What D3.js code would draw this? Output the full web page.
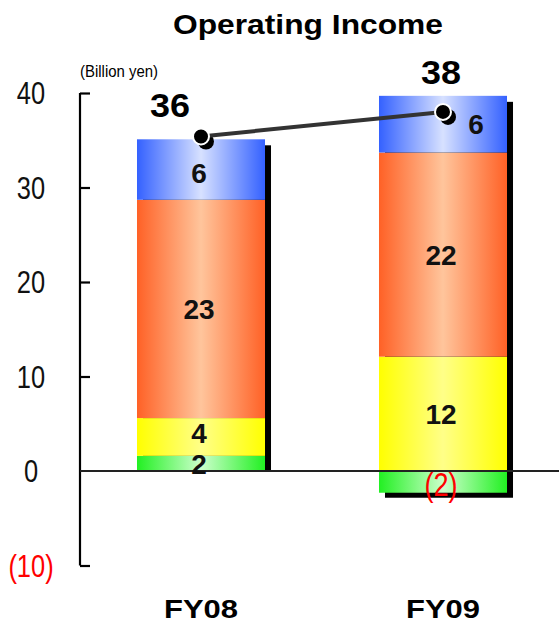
<!DOCTYPE html>
<html>
<head>
<meta charset="utf-8">
<script src="https://cdn.jsdelivr.net/npm/d3@7"></script>
<style>
  html, body { margin: 0; padding: 0; background: #fff; }
  svg { display: block; }
</style>
</head>
<body>
<svg id="chart" width="559" height="625"></svg>
<script>
// ---- data ----
const categories = ["FY08", "FY09"];
const seriesNames = ["green", "yellow", "orange", "blue"];
const greenValues  = [1.6, -2.3];
const yellowValues = [4.0, 12.1];
const orangeValues = [23.1, 21.6];
const blueValues   = [6.4, 6.0];
const greenLabels  = ["2", "(2)"];
const yellowLabels = ["4", "12"];
const orangeLabels = ["23", "22"];
const blueLabels   = ["6", "6"];
const totalValues  = [35.4, 38.0];
const totalLabels  = ["36", "38"];
const yTickValues  = [-10, 0, 10, 20, 30, 40];
const yTickLabels  = ["(10)", "0", "10", "20", "30", "40"];

const seriesValues = { green: greenValues, yellow: yellowValues, orange: orangeValues, blue: blueValues };
const seriesLabels = { green: greenLabels, yellow: yellowLabels, orange: orangeLabels, blue: blueLabels };
const gradStops = {
  green:  ["#22f022", "#ccffcc"],
  yellow: ["#ffff00", "#ffff88"],
  orange: ["#ff6126", "#ffc59c"],
  blue:   ["#3461ff", "#d7e1ff"]
};

const FONT = "'Liberation Sans', Arial, Helvetica, sans-serif";
const svg = d3.select("#chart");
const W = 559, H = 625;

const y = d3.scaleLinear().domain([-10, 40]).range([565.5, 93]);
const x = d3.scaleBand().domain(categories).range([80, 564]).paddingInner(0.471).paddingOuter(0.2355);

// narrow text: Liberation Sans compressed horizontally to mimic Arial Narrow
function narrow(sel) {
  sel.each(function () {
    const w = this.getComputedTextLength();
    if (w > 0) d3.select(this).attr("textLength", w * 0.82).attr("lengthAdjust", "spacingAndGlyphs");
  });
}

// gradients
const defs = svg.append("defs");
seriesNames.forEach(s => {
  const g = defs.append("linearGradient").attr("id", "g-" + s)
    .attr("x1", "0%").attr("x2", "100%").attr("y1", "0%").attr("y2", "0%");
  g.append("stop").attr("offset", "0%").attr("stop-color", gradStops[s][0]);
  g.append("stop").attr("offset", "50%").attr("stop-color", gradStops[s][1]);
  g.append("stop").attr("offset", "100%").attr("stop-color", gradStops[s][0]);
});

// stack
const table = categories.map((c, i) => {
  const o = { cat: c };
  seriesNames.forEach(s => o[s] = seriesValues[s][i]);
  return o;
});
const stacked = d3.stack().keys(seriesNames).offset(d3.stackOffsetDiverging)(table);

// title
svg.append("text").attr("font-family", FONT).attr("font-weight", "bold")
  .attr("x", 308).attr("y", 34).attr("text-anchor", "middle")
  .attr("font-size", 28).attr("textLength", 270).attr("lengthAdjust", "spacingAndGlyphs")
  .text("Operating Income");

// unit label
svg.append("text").attr("font-family", FONT)
  .attr("x", 80).attr("y", 77).attr("font-size", 16)
  .attr("textLength", 78).attr("lengthAdjust", "spacingAndGlyphs")
  .text("(Billion yen)");

// y axis
const yAxis = d3.axisRight(y).tickValues(yTickValues).tickSize(10).tickFormat("");
const ag = svg.append("g").attr("transform", "translate(80,0)").call(yAxis);
ag.select(".domain").attr("stroke", "#000").attr("stroke-width", 2.2)
  .attr("d", `M0,${y(40)}V${y(-10)}`);
ag.selectAll(".tick line").attr("stroke", "#000").attr("stroke-width", 2.2);
ag.selectAll(".tick").filter(d => d === 0).remove();

svg.selectAll(".ytl").data(yTickValues).enter().append("text")
  .attr("class", "ytl").attr("font-family", FONT)
  .attr("x", 31).attr("y", d => y(d)).attr("dy", "0.36em")
  .attr("text-anchor", "middle").attr("font-size", 31)
  .attr("fill", d => d < 0 ? "#ff0000" : "#111")
  .text((d, i) => yTickLabels[i])
  .call(narrow);

// shadows
const tops = categories.map((c, i) => d3.max(stacked, s => s[i][1]));
const bots = categories.map((c, i) => d3.min(stacked, s => s[i][0]));
svg.selectAll(".shadow").data(categories).enter().append("rect")
  .attr("x", d => x(d) + 6)
  .attr("y", (d, i) => y(tops[i]) + 6)
  .attr("width", x.bandwidth())
  .attr("height", (d, i) => (y(bots[i]) + (bots[i] < 0 ? 5 : 0)) - (y(tops[i]) + 6))
  .attr("fill", "#000");

// bars
stacked.forEach(layer => {
  svg.selectAll(".seg-" + layer.key).data(layer).enter().append("rect")
    .attr("x", (d, i) => x(categories[i]))
    .attr("y", d => y(d[1]))
    .attr("width", x.bandwidth())
    .attr("height", d => y(d[0]) - y(d[1]))
    .attr("fill", `url(#g-${layer.key})`);
});

// zero line
svg.append("line").attr("x1", 80).attr("x2", W).attr("y1", y(0)).attr("y2", y(0))
  .attr("stroke", "#222").attr("stroke-width", 2.2);

// segment labels
stacked.forEach(layer => {
  layer.forEach((d, i) => {
    const v = seriesValues[layer.key][i];
    const cx = x(categories[i]) + x.bandwidth() / 2;
    const isTopShifted = layer.key === "blue" && i === 1;
    let yy = (y(d[0]) + y(d[1])) / 2;
    if (v < 0) yy += 2;
    else if (layer.key === "yellow" && Math.abs(v) < 6) yy -= 4;   // keep small label clear of the one below
    else if (layer.key === "blue" && !isTopShifted) yy += 3;
    const t = svg.append("text").attr("font-family", FONT)
      .attr("x", cx + (isTopShifted ? 33 : -2))
      .attr("y", yy)
      .attr("dy", "0.36em")
      .attr("text-anchor", "middle");
    if (v < 0) {
      t.attr("font-size", 33).attr("fill", "#ff0000");
    } else {
      t.attr("font-weight", "bold").attr("font-size", 28).attr("fill", "#111");
    }
    t.text(seriesLabels[layer.key][i]);
    if (v < 0) narrow(t);
  });
});

// total line
const pts = categories.map((c, i) => [x(c) + x.bandwidth() / 2, y(totalValues[i])]);
svg.selectAll(".dotshadow").data(pts).enter().append("circle")
  .attr("cx", d => d[0] + 5).attr("cy", d => d[1] + 5).attr("r", 8).attr("fill", "#000");
svg.append("path").attr("d", d3.line()(pts))
  .attr("stroke", "#333").attr("stroke-width", 4).attr("fill", "none");
svg.selectAll(".dot").data(pts).enter().append("circle")
  .attr("cx", d => d[0]).attr("cy", d => d[1]).attr("r", 8)
  .attr("fill", "#000").attr("stroke", "#fff").attr("stroke-width", 2);

// total labels
svg.selectAll(".tot").data(categories).enter().append("text")
  .attr("font-family", FONT).attr("font-weight", "bold")
  .attr("x", (d, i) => x(d) + x.bandwidth() / 2 + (i === 0 ? -31 : -2))
  .attr("y", (d, i) => y(totalValues[i]) - (i === 0 ? 19 : 28))
  .attr("text-anchor", "middle").attr("font-size", 34)
  .attr("textLength", 40).attr("lengthAdjust", "spacingAndGlyphs")
  .text((d, i) => totalLabels[i]);

// category labels
svg.selectAll(".cat").data(categories).enter().append("text")
  .attr("font-family", FONT).attr("font-weight", "bold")
  .attr("x", d => x(d) + x.bandwidth() / 2)
  .attr("y", 618).attr("text-anchor", "middle").attr("font-size", 25)
  .attr("textLength", 74).attr("lengthAdjust", "spacingAndGlyphs")
  .text(d => d);
</script>
</body>
</html>
